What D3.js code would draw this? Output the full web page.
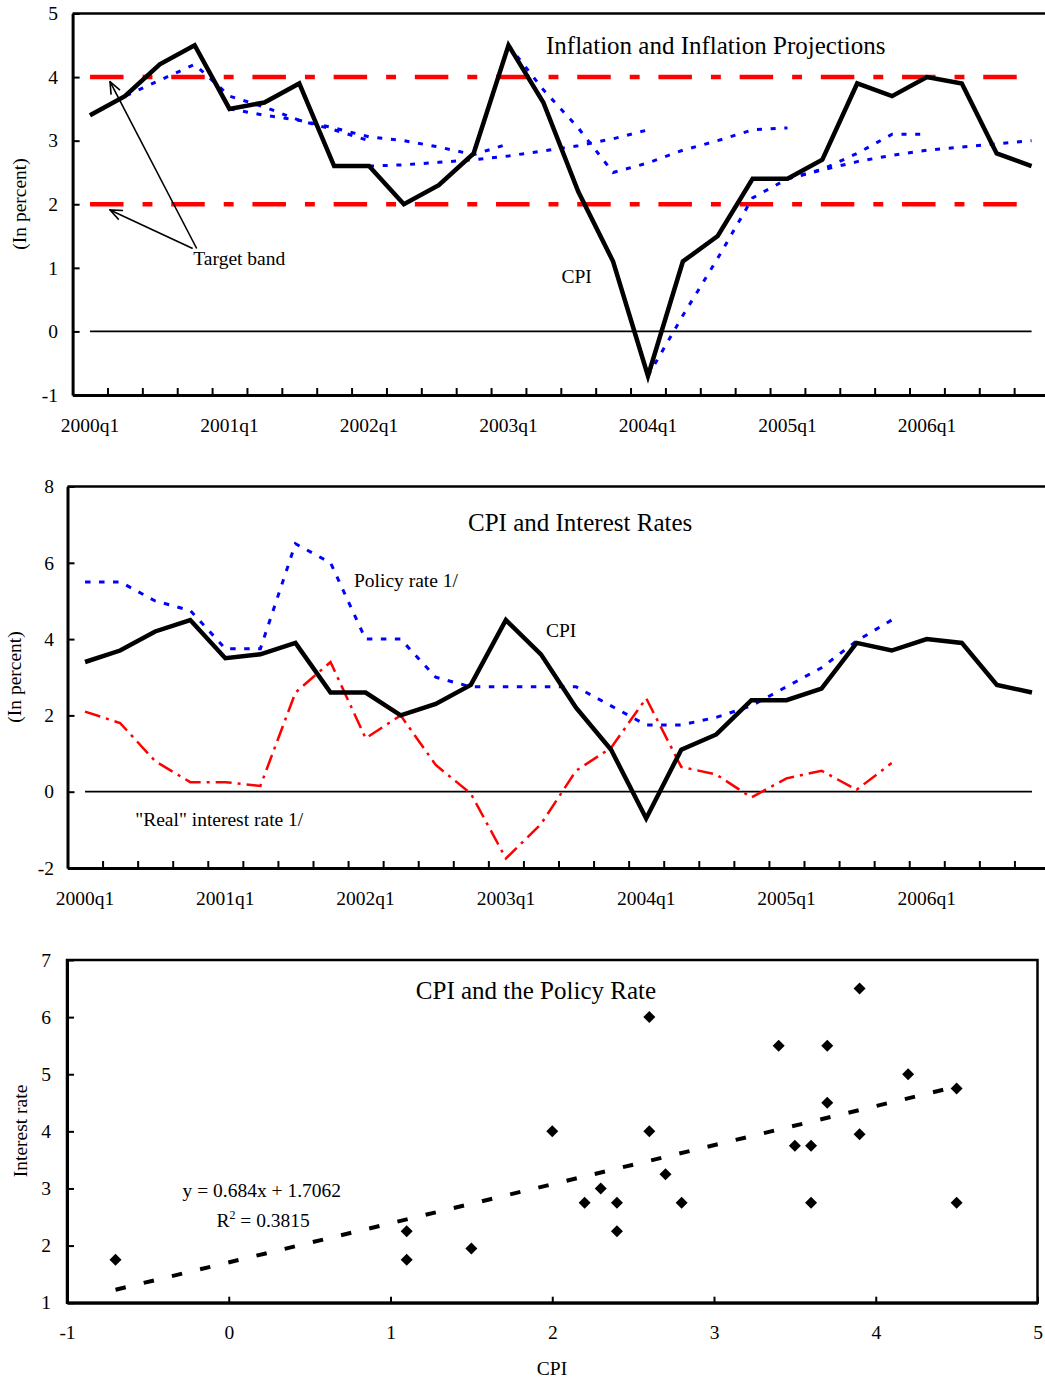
<!DOCTYPE html>
<html>
<head>
<meta charset="utf-8">
<script src="https://cdn.jsdelivr.net/npm/d3@7"></script>
<style>
body { margin: 0; background: #fff; }
svg { display: block; font-family: "Liberation Serif", "Times New Roman", serif; }
.axis text { font-size: 19.5px; fill: #000; font-family: "Liberation Serif", "Times New Roman", serif; }
.axis line { stroke: #000; stroke-width: 2; }
.axis path { stroke: #000; stroke-width: 3; }
.lbl { font-size: 19.5px; fill: #000; font-family: "Liberation Serif", "Times New Roman", serif; }
.title { font-size: 25px; fill: #000; font-family: "Liberation Serif", "Times New Roman", serif; }
</style>
</head>
<body>
<svg id="chart" width="1045" height="1379"></svg>
<script>
// quarters 2000q1 .. 2006q4
const quarters = [
    "2000q1", "2000q2", "2000q3", "2000q4", "2001q1", "2001q2", "2001q3", "2001q4",
    "2002q1", "2002q2", "2002q3", "2002q4", "2003q1", "2003q2", "2003q3", "2003q4",
    "2004q1", "2004q2", "2004q3", "2004q4", "2005q1", "2005q2", "2005q3", "2005q4",
    "2006q1", "2006q2", "2006q3", "2006q4"
]
const xLabels = ["2000q1", "2001q1", "2002q1", "2003q1", "2004q1", "2005q1", "2006q1"]

// CPI inflation, in percent
const cpi = [3.4, 3.7, 4.2, 4.5, 3.5, 3.6, 3.9, 2.6, 2.6, 2.0, 2.3, 2.8, 4.5, 3.6, 2.2, 1.1,
    -0.7, 1.1, 1.5, 2.4, 2.4, 2.7, 3.9, 3.7, 4.0, 3.9, 2.8, 2.6]

// policy rate and "real" rate, 2000q1 .. 2005q4
const policyRate = [5.5, 5.5, 5.0, 4.75, 3.75, 3.75, 6.5, 6.0, 4.0, 4.0, 3.0, 2.75,
    2.75, 2.75, 2.75, 2.25, 1.75, 1.75, 1.95, 2.25, 2.75, 3.25, 3.95, 4.5]
const realRate = [2.1, 1.8, 0.8, 0.25, 0.25, 0.15, 2.6, 3.4, 1.4, 2.0, 0.7, -0.05,
    -1.75, -0.85, 0.55, 1.15, 2.45, 0.65, 0.45, -0.15, 0.35, 0.55, 0.05, 0.75]

// inflation projections, each starts at a given quarter
const proj2000q1 = [3.4, 3.7, 3.95, 4.2, 3.7, 3.53, 3.32, 3.17, 3.0]
const proj2001q1 = [3.5, 3.4, 3.32, 3.2, 3.06, 3.0, 2.9, 2.78, 2.95]
const proj2002q1 = [2.6, 2.62, 2.66, 2.7, 2.76, 2.84, 2.92, 3.03, 3.17]
const proj2003q1 = [4.5, 3.8, 3.2, 2.5, 2.65, 2.85, 3.0, 3.17, 3.2]
const proj2004q1 = [-0.7, 0.25, 1.15, 2.1, 2.4, 2.55, 2.8, 3.1, 3.1]
const proj2005q1 = [2.4, 2.54, 2.67, 2.77, 2.85, 2.9, 2.95, 3.0]
const projStarts = ["2000q1", "2001q1", "2002q1", "2003q1", "2004q1", "2005q1"]
const projections = [proj2000q1, proj2001q1, proj2002q1, proj2003q1, proj2004q1, proj2005q1]

const targetBand = [2, 4]

// regression of policy rate on CPI (from the chart)
const trendSlope = 0.684
const trendIntercept = 1.7062

const svg = d3.select("#chart")

// arrow head for the target band note
svg.append("defs").append("marker")
    .attr("id", "arrow")
    .attr("markerUnits", "userSpaceOnUse")
    .attr("viewBox", "0 0 14 12")
    .attr("refX", 13)
    .attr("refY", 6)
    .attr("markerWidth", 14)
    .attr("markerHeight", 12)
    .attr("orient", "auto")
    .append("path")
    .attr("d", "M1,1 L13,6 L1,11")
    .attr("fill", "none")
    .attr("stroke", "#000")
    .attr("stroke-width", 1.6)

let lineSeries = (g, x, y, data, offset, style) => {
    let line = d3.line()
        .x((d, i) => x(quarters[i + offset]) + x.bandwidth() / 2)
        .y(d => y(d))
    g.append("path")
        .datum(data)
        .attr("d", line)
        .attr("fill", "none")
        .attr("stroke", style.color)
        .attr("stroke-width", style.width)
        .attr("stroke-dasharray", style.dash || null)
        .attr("stroke-linejoin", "miter")
}

let timeFrame = (g, x, y, yTicks, labelPad) => {
    let [x0, x1] = x.range()
    let [yb, yt] = y.range()
    // top border
    g.append("line")
        .attr("x1", x0).attr("x2", x1)
        .attr("y1", yt).attr("y2", yt)
        .attr("stroke", "#000").attr("stroke-width", 2.5)
    // left axis
    g.append("g")
        .attr("class", "axis")
        .attr("transform", "translate(" + x0 + ",0)")
        .call(d3.axisLeft(y).tickValues(yTicks).tickSize(-7).tickSizeOuter(0)
            .tickPadding(labelPad).tickFormat(d => String(d)))
    // bottom axis: ticks between quarters
    let xb = d3.scaleLinear().domain([0, quarters.length]).range([x0, x1])
    g.append("g")
        .attr("class", "axis")
        .attr("transform", "translate(0," + yb + ")")
        .call(d3.axisBottom(xb).tickValues(d3.range(1, quarters.length))
            .tickSize(-7).tickSizeOuter(0).tickFormat(""))
    // quarter labels
    let lab = g.append("g")
        .attr("class", "axis")
        .attr("transform", "translate(0," + yb + ")")
        .call(d3.axisBottom(x).tickValues(xLabels).tickSize(0).tickPadding(23.5))
    lab.select(".domain").remove()
}

let zeroLine = (g, x, y) => {
    g.append("line")
        .attr("x1", x(quarters[0]) + x.bandwidth() / 2)
        .attr("x2", x(quarters[quarters.length - 1]) + x.bandwidth() / 2)
        .attr("y1", y(0)).attr("y2", y(0))
        .attr("stroke", "#000").attr("stroke-width", 1.8)
}

let text = (g, x, y, str, cls) => g.append("text")
    .attr("class", cls || "lbl")
    .attr("x", x).attr("y", y)
    .text(str)

let yTitle = (g, x, y, str) => g.append("text")
    .attr("class", "lbl")
    .attr("text-anchor", "middle")
    .attr("transform", "translate(" + x + "," + y + ") rotate(-90)")
    .text(str)

// ---------- panel 1: inflation and projections ----------
const g1 = svg.append("g")
const x1 = d3.scaleBand().domain(quarters).range([72.6, 1049])
const y1 = d3.scaleLinear().domain([-1, 5]).range([395, 13.5])

timeFrame(g1, x1, y1, d3.range(-1, 6), 14.6)
zeroLine(g1, x1, y1)

g1.selectAll(".band")
    .data(targetBand)
    .enter()
    .append("line")
    .attr("class", "band")
    .attr("x1", x1(quarters[0]) + x1.bandwidth() / 2)
    .attr("x2", x1(quarters[quarters.length - 1]) + x1.bandwidth() / 2)
    .attr("y1", d => y1(d)).attr("y2", d => y1(d))
    .attr("stroke", "#ff0000")
    .attr("stroke-width", 4.5)
    .attr("stroke-dasharray", "33.5,19,9.9,18.8")

projections.forEach((p, k) => {
    lineSeries(g1, x1, y1, p, quarters.indexOf(projStarts[k]),
        { color: "#0000ff", width: 3, dash: "5,8.7" })
})
lineSeries(g1, x1, y1, cpi, 0, { color: "#000", width: 4.5 })

text(g1, 546, 54, "Inflation and Inflation Projections", "title")
text(g1, 561.5, 283, "CPI")
text(g1, 193.3, 265, "Target band")
yTitle(g1, 26, 204, "(In percent)")

g1.append("line")
    .attr("x1", 196.7).attr("y1", 248.5)
    .attr("x2", 110).attr("y2", 81.7)
    .attr("stroke", "#000").attr("stroke-width", 1.6)
    .attr("marker-end", "url(#arrow)")
g1.append("line")
    .attr("x1", 192.7).attr("y1", 248.5)
    .attr("x2", 110).attr("y2", 210)
    .attr("stroke", "#000").attr("stroke-width", 1.6)
    .attr("marker-end", "url(#arrow)")

// ---------- panel 2: CPI and interest rates ----------
const g2 = svg.append("g")
const x2 = d3.scaleBand().domain(quarters).range([67.5, 1049.5])
const y2 = d3.scaleLinear().domain([-2, 8]).range([868, 486.5])

timeFrame(g2, x2, y2, d3.range(-2, 9, 2), 13.5)
zeroLine(g2, x2, y2)

lineSeries(g2, x2, y2, realRate, 0, { color: "#ff0000", width: 2.5, dash: "16,6,3,6" })
lineSeries(g2, x2, y2, policyRate, 0, { color: "#0000ff", width: 3, dash: "5.5,8.5" })
lineSeries(g2, x2, y2, cpi, 0, { color: "#000", width: 4.5 })

text(g2, 468, 531, "CPI and Interest Rates", "title")
text(g2, 354, 586.7, "Policy rate 1/")
text(g2, 546, 637.3, "CPI")
text(g2, 135.2, 826, "\"Real\" interest rate 1/")
yTitle(g2, 21, 677, "(In percent)")

// ---------- panel 3: scatter CPI vs policy rate ----------
const g3 = svg.append("g")
const x3 = d3.scaleLinear().domain([-1, 5]).range([67, 1037.5])
const y3 = d3.scaleLinear().domain([1, 7]).range([1302.7, 960])

g3.append("rect")
    .attr("x", 67).attr("y", 960)
    .attr("width", 1037.5 - 67).attr("height", 1302.7 - 960)
    .attr("fill", "none").attr("stroke", "#000").attr("stroke-width", 2.5)

g3.append("g")
    .attr("class", "axis")
    .attr("transform", "translate(67,0)")
    .call(d3.axisLeft(y3).tickValues(d3.range(1, 8)).tickSize(-7).tickSizeOuter(0)
        .tickPadding(16).tickFormat(d => String(d)))
g3.append("g")
    .attr("class", "axis")
    .attr("transform", "translate(0,1302.7)")
    .call(d3.axisBottom(x3).tickValues(d3.range(-1, 6)).tickSize(-6).tickSizeOuter(0)
        .tickPadding(22.5).tickFormat(d => String(d)))

const scatter = policyRate.map((r, i) => [cpi[i], r])
const xr = d3.extent(scatter, d => d[0])

g3.append("line")
    .attr("x1", x3(xr[0])).attr("y1", y3(trendSlope * xr[0] + trendIntercept))
    .attr("x2", x3(xr[1])).attr("y2", y3(trendSlope * xr[1] + trendIntercept))
    .attr("stroke", "#000")
    .attr("stroke-width", 4)
    .attr("stroke-dasharray", "10.5,18.5")

g3.selectAll(".pt")
    .data(scatter)
    .enter()
    .append("path")
    .attr("class", "pt")
    .attr("d", d3.symbol(d3.symbolSquare, 72))
    .attr("transform", d => "translate(" + x3(d[0]) + "," + y3(d[1]) + ") rotate(45)")
    .attr("fill", "#000")

text(g3, 415.8, 999.3, "CPI and the Policy Rate", "title")
text(g3, 182.6, 1196.7, "y = 0.684x + 1.7062")
let r2 = text(g3, 216.4, 1226.7, "R")
r2.append("tspan").attr("dy", -8).style("font-size", "12px").text("2")
r2.append("tspan").attr("dy", 8).text(" = 0.3815")
g3.append("text")
    .attr("class", "lbl")
    .attr("text-anchor", "middle")
    .attr("x", 552).attr("y", 1375)
    .text("CPI")
yTitle(g3, 27, 1131, "Interest rate")
</script>
</body>
</html>
